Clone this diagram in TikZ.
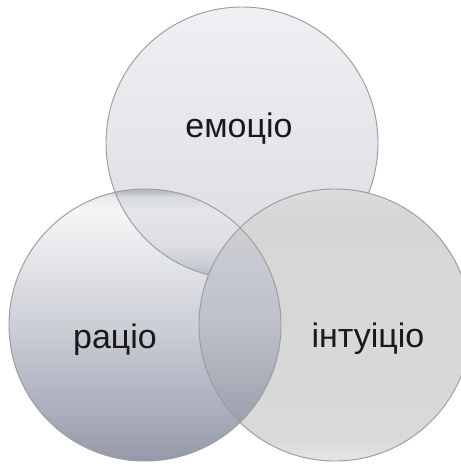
\documentclass[tikz,border=0pt]{standalone}
\usepackage{fontspec}
\setmainfont{Liberation Sans}

\definecolor{rimgray}{HTML}{9A9BA0}
\definecolor{emoA}{HTML}{EFF0F2}
\definecolor{emoB}{HTML}{DADCE1}
\definecolor{ratA}{HTML}{C8CACF}
\definecolor{ratB}{HTML}{E9EAEC}
\definecolor{ratC}{HTML}{F6F6F7}
\definecolor{ratD}{HTML}{E6E7EA}
\definecolor{ratE}{HTML}{C8CBD3}
\definecolor{ratF}{HTML}{AEB2C0}
\definecolor{ratG}{HTML}{9599A9}
\definecolor{intA}{HTML}{DCDCDC}
\definecolor{intB}{HTML}{D6D6D6}
\definecolor{intC}{HTML}{D9D9D9}
\definecolor{intD}{HTML}{E6E6E6}
\definecolor{ovA}{HTML}{B7BAC1}
\definecolor{ovB}{HTML}{D8DADF}
\definecolor{ovC}{HTML}{E4E5E8}
\definecolor{ovD}{HTML}{DCDEE3}
\definecolor{ovE}{HTML}{C9CCD4}
\definecolor{ovF}{HTML}{A4A8B6}
\definecolor{lensA}{HTML}{D3D4D8}
\definecolor{lensB}{HTML}{BDC0C8}
\definecolor{lensC}{HTML}{8F94A4}

\pgfdeclareverticalshading{emoshade}{100bp}{color(0bp)=(emoB); color(25bp)=(emoB); color(75bp)=(emoA); color(100bp)=(emoA)}
\pgfdeclareverticalshading{ratshade}{100bp}{color(0bp)=(ratG); color(25bp)=(ratG); color(36bp)=(ratF); color(48bp)=(ratE); color(63bp)=(ratD); color(71bp)=(ratC); color(73.5bp)=(ratB); color(75bp)=(ratA); color(100bp)=(ratA)}
\pgfdeclareverticalshading{intshade}{100bp}{color(0bp)=(intD); color(25bp)=(intD); color(29bp)=(intC); color(70bp)=(intB); color(75bp)=(intA); color(100bp)=(intA)}
\pgfdeclareverticalshading{overshade}{100bp}{color(0bp)=(ovF); color(25bp)=(ovF); color(35bp)=(ovE); color(45bp)=(ovD); color(63bp)=(ovC); color(70bp)=(ovB); color(73bp)=(ovA); color(100bp)=(ovA)}
\pgfdeclareverticalshading{lensshade}{100bp}{color(0bp)=(lensC); color(25bp)=(lensC); color(50bp)=(lensB); color(75bp)=(lensA); color(100bp)=(lensA)}

\begin{document}
\begin{tikzpicture}[x=0.03cm,y=-0.03cm,
        rim/.style={draw=rimgray,line width=0.8pt},
        lbl/.style={anchor=base,font=\fontsize{29}{34}\selectfont,text=black!90}]
        \useasboundingbox (0,0) rectangle (461,466);
        \coordinate (cEmo) at (242,143);
        \coordinate (cRat) at (145,325);
        \coordinate (cInt) at (335,325);

        % emocio
        \shade[shading=emoshade] (cEmo) circle[radius=136];
        \draw[rim] (cEmo) circle[radius=136];

        % racio, with the part that lies on emocio
        \shade[shading=ratshade] (cRat) circle[radius=136];
        \begin{scope}
            \clip (cRat) circle[radius=136];
            \clip (cEmo) circle[radius=136];
            \shade[shading=overshade] (100,187) rectangle (285,285);
        \end{scope}
        \begin{scope}
            \clip (cRat) circle[radius=136];
            \draw[rim] (cEmo) circle[radius=136];
        \end{scope}
        \draw[rim] (cRat) circle[radius=136];

        % intuicio, with the lens over racio
        \shade[shading=intshade] (cInt) circle[radius=136];
        \begin{scope}
            \clip (cInt) circle[radius=136];
            \clip (cRat) circle[radius=136];
            \shade[shading=lensshade] (195,187) rectangle (285,463);
        \end{scope}
        \begin{scope}
            \clip (cInt) circle[radius=136];
            \draw[rim] (cRat) circle[radius=136];
        \end{scope}
        \draw[rim] (cInt) circle[radius=136];

        \node[lbl] (emotio) at (239,137) {емоціо};
        \node[lbl] (ratio) at (115,348) {раціо};
        \node[lbl] (intuitio) at (368,347) {інтуіціо};
    \end{tikzpicture}
\end{document}
